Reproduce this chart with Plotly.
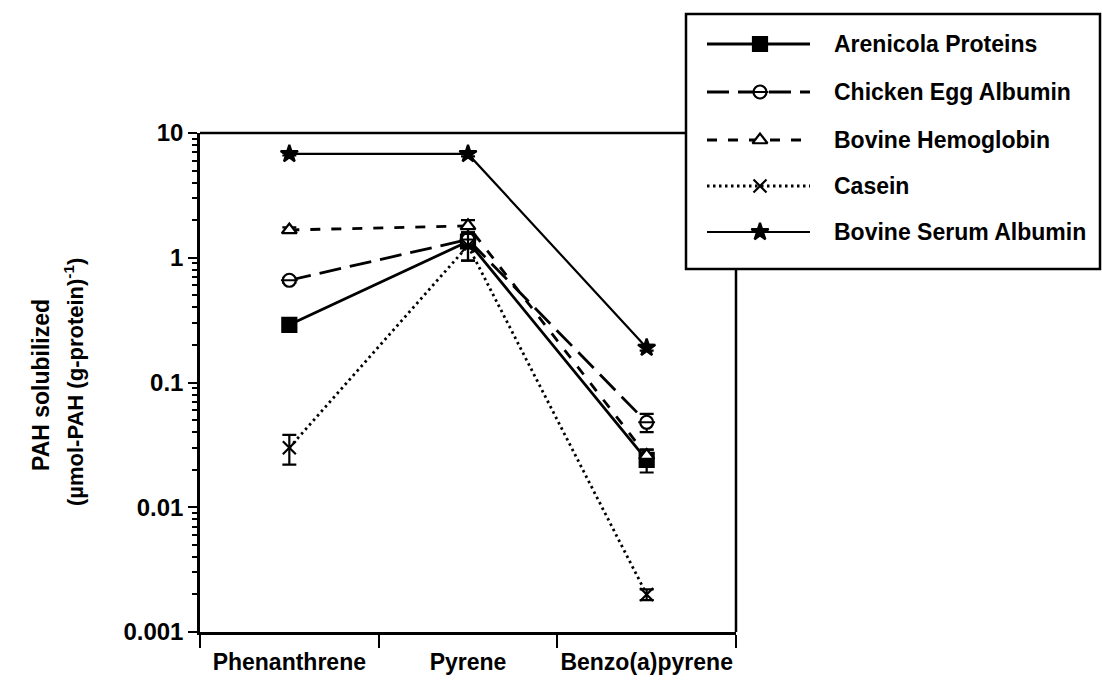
import plotly.graph_objects as go

W, H = 1102, 680

categories = ["Phenanthrene", "Pyrene", "Benzo(a)pyrene"]

series_names = ["Arenicola Proteins", "Chicken Egg Albumin", "Bovine Hemoglobin",
                "Casein", "Bovine Serum Albumin"]
arenicola = [0.29, 1.35, 0.024]
arenicola_err = [0.02, 0.4, 0.005]
egg = [0.66, 1.4, 0.048]
egg_err = [0.03, 0.2, 0.008]
hemoglobin = [1.67, 1.8, 0.026]
hemoglobin_err = [0.08, 0.2, 0.003]
casein = [0.030, 1.25, 0.002]
casein_err = [0.008, 0.3, 0.0002]
bsa = [6.8, 6.8, 0.19]
bsa_err = [0.2, 0.3, 0.01]

y_tickvals = [0.001, 0.01, 0.1, 1, 10]
y_ticktext = ["0.001", "0.01", "0.1", "1", "10"]

FAMILY = "Liberation Sans, Arial, sans-serif"
def font(size):
    return dict(family=FAMILY, size=size, color="black", weight="bold")

styles = [
    dict(dash="solid", width=2.8, symbol="square", size=14, fill="black"),
    dict(dash="22px,9px", width=2.8, symbol="circle", size=13, fill="white"),
    dict(dash="10px,11px", width=2.8, symbol="triangle-up", size=13, fill="white"),
    dict(dash="2.5px,3.5px", width=2.8, symbol="x-thin-open", size=13, fill="black"),
    dict(dash="solid", width=2.2, symbol="star", size=13, fill="black"),
]
values = [arenicola, egg, hemoglobin, casein, bsa]
errors = [arenicola_err, egg_err, hemoglobin_err, casein_err, bsa_err]

fig = go.Figure()
for name, vals, errs, st in zip(series_names, values, errors, styles):
    fig.add_trace(go.Scatter(
        x=categories, y=vals, name=name, mode="lines+markers",
        line=dict(color="black", width=st["width"], dash=st["dash"]),
        marker=dict(symbol=st["symbol"], size=st["size"], color=st["fill"],
                    line=dict(color="black", width=2.2)),
        error_y=dict(type="data", array=errs, symmetric=True, color="black",
                     thickness=2.2, width=7),
        showlegend=False, xaxis="x", yaxis="y",
    ))
    if name == "Chicken Egg Albumin":
        fig.add_trace(go.Scatter(
            x=categories, y=vals, mode="markers", showlegend=False,
            marker=dict(symbol="line-ew-open", size=12, color="black",
                        line=dict(color="black", width=2)),
            xaxis="x", yaxis="y", hoverinfo="skip"))

# ---- custom legend in pixel coordinates (overlay axes x2/y2) ----
leg_left, leg_top, leg_right, leg_bottom = 686, 14, 1100, 269
row_y = [44, 92, 140, 186, 232]
line_x0, line_x1, mark_x, text_x = 707, 810, 760, 832

shapes = [
    dict(type="rect", xref="x2", yref="y2", x0=leg_left, x1=leg_right,
         y0=leg_top, y1=leg_bottom, line=dict(color="black", width=2.5)),
    # remaining parts of plot frame (top and right), hidden behind legend box
    dict(type="line", xref="x2", yref="y2", x0=200, x1=leg_left, y0=133, y1=133,
         line=dict(color="black", width=2.5)),
    dict(type="line", xref="x2", yref="y2", x0=736, x1=736, y0=leg_bottom, y1=632,
         line=dict(color="black", width=2.5)),
]
annotations = []
for name, st, ry in zip(series_names, styles, row_y):
    fig.add_trace(go.Scatter(
        x=[line_x0, line_x1], y=[ry, ry], mode="lines", showlegend=False, hoverinfo="skip",
        line=dict(color="black", width=st["width"], dash=st["dash"]),
        xaxis="x2", yaxis="y2"))
    fig.add_trace(go.Scatter(
        x=[mark_x], y=[ry], mode="markers", showlegend=False, hoverinfo="skip",
        marker=dict(symbol=st["symbol"], size=st["size"], color=st["fill"],
                    line=dict(color="black", width=2.2)),
        xaxis="x2", yaxis="y2"))
    if name == "Chicken Egg Albumin":
        fig.add_trace(go.Scatter(
            x=[mark_x], y=[ry], mode="markers", showlegend=False, hoverinfo="skip",
            marker=dict(symbol="line-ew-open", size=12, color="black",
                        line=dict(color="black", width=2)),
            xaxis="x2", yaxis="y2"))
    annotations.append(dict(xref="x2", yref="y2", x=text_x, y=ry, text=name,
                            showarrow=False, xanchor="left", yanchor="middle", font=font(23)))

# y-axis title
annotations.append(dict(xref="paper", yref="paper", x=41 / W, y=1 - 385 / H,
                        text="PAH solubilized", textangle=-90, showarrow=False,
                        xanchor="center", yanchor="middle", font=font(23)))
annotations.append(dict(xref="paper", yref="paper", x=74 / W, y=1 - 382 / H,
                        text="(µmol-PAH (g-protein)<sup>-1</sup>)", textangle=-90, showarrow=False,
                        xanchor="center", yanchor="middle", font=font(22)))

fig.update_layout(
    width=W, height=H,
    margin=dict(l=0, r=0, t=0, b=0, pad=0),
    paper_bgcolor="white", plot_bgcolor="rgba(0,0,0,0)",
    font=font(22),
    showlegend=False,
    xaxis=dict(domain=[200 / W, 736 / W], type="category", range=[-0.5, 2.5],
               showline=True, linecolor="black", linewidth=2.5, mirror=False,
               ticks="outside", tickson="boundaries", ticklen=13, tickwidth=2,
               tickcolor="black", showgrid=False, zeroline=False, automargin=False,
               tickfont=font(23), tickangle=0, ticklabelstandoff=8, anchor="y"),
    yaxis=dict(domain=[1 - 632 / H, 1 - 133 / H], type="log", range=[-3, 1],
               tickvals=y_tickvals, ticktext=y_ticktext,
               showline=True, linecolor="black", linewidth=2.5, mirror=False,
               ticks="outside", ticklen=9, tickwidth=2, tickcolor="black",
               minor=dict(ticks="outside", ticklen=5, tickwidth=1.5, tickcolor="black", dtick="D1",
                          showgrid=False),
               showgrid=False, zeroline=False, automargin=False,
               tickfont=font(24), ticklabelstandoff=0, anchor="x"),
    xaxis2=dict(domain=[0, 1], range=[0, W], visible=False, anchor="y2", fixedrange=True),
    yaxis2=dict(domain=[0, 1], range=[H, 0], visible=False, anchor="x2", fixedrange=True),
    shapes=shapes,
    annotations=annotations,
)

fig.write_html("out.html", config={"displayModeBar": False},
               post_script="document.body.style.margin='0px';")
